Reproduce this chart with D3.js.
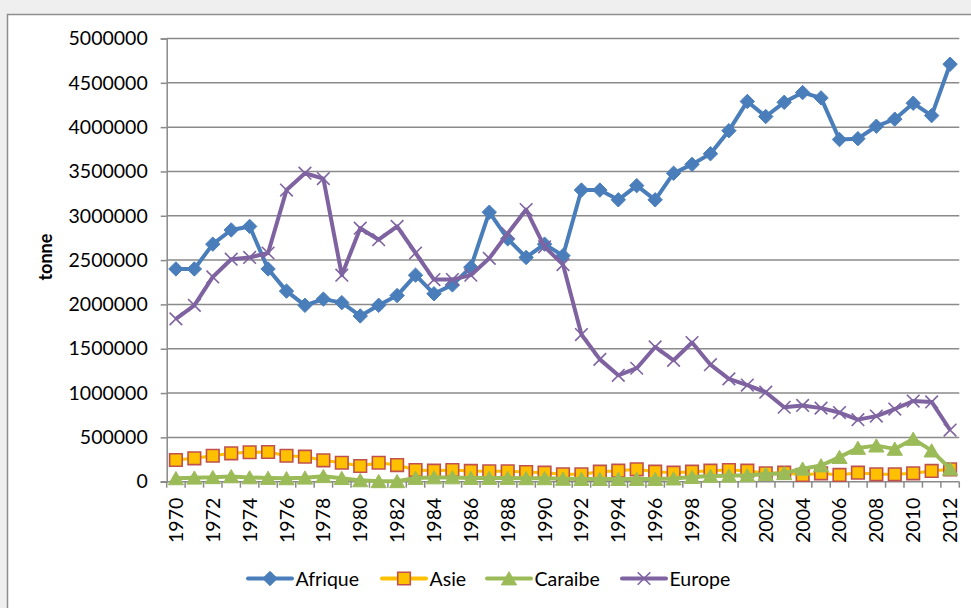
<!DOCTYPE html>
<html>
<head>
<meta charset="utf-8">
<script src="https://cdn.jsdelivr.net/npm/d3@7"></script>
<style>
  body { margin: 0; background: #efefef; }
  svg { display: block; font-family: Lato, "Open Sans", sans-serif; }
</style>
</head>
<body>
<div id="chart"></div>
<script>

// years on the category axis
var years = d3.range(1970, 2013);

// tonnes per year
var afrique = [2400000, 2400000, 2680000, 2840000, 2880000, 2400000, 2150000, 1990000, 2060000, 2020000,
  1870000, 1990000, 2100000, 2330000, 2120000, 2220000, 2420000, 3040000, 2740000, 2530000,
  2680000, 2550000, 3290000, 3290000, 3180000, 3340000, 3180000, 3480000, 3580000, 3700000,
  3960000, 4290000, 4120000, 4280000, 4390000, 4330000, 3860000, 3870000, 4010000, 4090000,
  4270000, 4130000, 4710000];

var asie = [245000, 264000, 293000, 320000, 332000, 335000, 293000, 282000, 241000, 214000,
  177000, 214000, 188000, 132000, 124000, 132000, 121000, 117000, 117000, 109000,
  102000, 83000, 83000, 113000, 124000, 140000, 113000, 102000, 113000, 124000,
  132000, 124000, 95000, 102000, 76000, 95000, 76000, 102000, 83000, 83000,
  95000, 121000, 140000];

var caraibe = [38000, 45000, 50000, 60000, 48000, 42000, 38000, 45000, 62000, 40000,
  15000, 5000, 5000, 42000, 48000, 48000, 42000, 42000, 42000, 38000,
  38000, 32000, 30000, 30000, 30000, 30000, 30000, 35000, 52000, 65000,
  68000, 72000, 85000, 95000, 146000, 183000, 277000, 381000, 407000, 370000,
  483000, 351000, 146000];

var europe = [1837000, 1990000, 2310000, 2510000, 2530000, 2580000, 3290000, 3480000, 3420000, 2330000,
  2860000, 2730000, 2880000, 2580000, 2280000, 2280000, 2330000, 2520000, 2800000, 3070000,
  2650000, 2450000, 1660000, 1380000, 1200000, 1280000, 1520000, 1370000, 1570000, 1320000,
  1160000, 1090000, 1010000, 840000, 860000, 830000, 780000, 700000, 740000, 820000,
  910000, 900000, 583000];

var yTicks = [0, 500000, 1000000, 1500000, 2000000, 2500000, 3000000, 3500000, 4000000, 4500000, 5000000];

var series = [
  {name: "Afrique", values: afrique, color: "#4A7EBB", marker: "diamond"},
  {name: "Asie", values: asie, color: "#FFC000", marker: "square"},
  {name: "Caraibe", values: caraibe, color: "#9BBB59", marker: "triangle"},
  {name: "Europe", values: europe, color: "#7F63A1", marker: "cross"}
];

var W = 971, H = 608;
var plot = {left: 166.7, right: 959.3, top: 38.5, bottom: 481.7};
var gridColor = "#8a8a8a";

var svg = d3.select("#chart").append("svg")
  .attr("width", W)
  .attr("height", H);

// outer frame of the chart area
svg.append("rect")
  .attr("x", 7.5).attr("y", 14.5)
  .attr("width", W + 10).attr("height", H + 10)
  .attr("fill", "#fff")
  .attr("stroke", "#8e8e8e")
  .attr("stroke-width", 1.5);

var x = d3.scaleBand()
  .domain(years)
  .range([plot.left, plot.right])
  .padding(0);

var y = d3.scaleLinear()
  .domain([0, 5000000])
  .range([plot.bottom, plot.top]);

function cx(i) { return x(years[i]) + x.bandwidth() / 2; }

// horizontal gridlines
svg.append("g")
  .selectAll("line")
  .data(yTicks.filter(function(t) { return t > 0; }))
  .enter().append("line")
  .attr("x1", plot.left).attr("x2", plot.right)
  .attr("y1", function(d) { return y(d); })
  .attr("y2", function(d) { return y(d); })
  .attr("stroke", gridColor)
  .attr("stroke-width", 1.5);

// y axis
var yAxis = svg.append("g")
  .attr("transform", "translate(" + plot.left + ",0)")
  .call(d3.axisLeft(y).tickValues(yTicks).tickSize(6).tickPadding(13).tickFormat(d3.format("d")));
yAxis.select(".domain").attr("stroke", gridColor).attr("stroke-width", 1.5);
yAxis.selectAll(".tick line").attr("stroke", gridColor).attr("stroke-width", 1.5);
yAxis.selectAll("text")
  .attr("font-size", 19.5)
  .attr("fill", "#000")
  .style("font-family", "Lato, sans-serif");

// x axis: baseline, ticks between categories, every second year labelled
svg.append("line")
  .attr("x1", plot.left - 6).attr("x2", plot.right)
  .attr("y1", plot.bottom).attr("y2", plot.bottom)
  .attr("stroke", gridColor)
  .attr("stroke-width", 1.5);

svg.append("g")
  .selectAll("line")
  .data(years.concat([2013]))
  .enter().append("line")
  .attr("x1", function(d, i) { return plot.left + i * x.bandwidth(); })
  .attr("x2", function(d, i) { return plot.left + i * x.bandwidth(); })
  .attr("y1", plot.bottom)
  .attr("y2", plot.bottom + 6)
  .attr("stroke", gridColor)
  .attr("stroke-width", 1.5);

svg.append("g")
  .selectAll("text")
  .data(years.filter(function(d) { return d % 2 === 0; }))
  .enter().append("text")
  .attr("transform", function(d) {
    return "translate(" + (x(d) + x.bandwidth() / 2 + 7) + "," + (plot.bottom + 16) + ") rotate(-90)";
  })
  .attr("text-anchor", "end")
  .attr("font-size", 19.5)
  .text(function(d) { return d; });

// axis title
svg.append("text")
  .attr("transform", "translate(52," + ((plot.top + plot.bottom) / 2 - 3) + ") rotate(-90)")
  .attr("text-anchor", "middle")
  .attr("font-size", 18)
  .attr("font-weight", "bold")
  .text("tonne");

// marker shapes
function markerPath(type) {
  if (type == "diamond") return "M0,-7.2L7.2,0L0,7.2L-7.2,0Z";
  if (type == "square") return "M-6.3,-6.3H6.3V6.3H-6.3Z";
  if (type == "triangle") return "M0,-6.8L7.6,6.4H-7.6Z";
  return "M-6.3,-6.3L6.3,6.3M-6.3,6.3L6.3,-6.3";
}

function drawMarker(sel, s) {
  sel.attr("d", markerPath(s.marker));
  if (s.marker == "square") {
    sel.attr("fill", "#FFC000").attr("stroke", "#C0504D").attr("stroke-width", 1.6);
  } else if (s.marker == "cross") {
    sel.attr("fill", "none").attr("stroke", s.color).attr("stroke-width", 1.6);
  } else {
    sel.attr("fill", s.color).attr("stroke", s.color).attr("stroke-width", 1);
  }
}

var line = d3.line()
  .x(function(d, i) { return cx(i); })
  .y(function(d) { return y(d); });

series.forEach(function(s) {
  var g = svg.append("g");

  g.append("path")
    .datum(s.values)
    .attr("d", line)
    .attr("fill", "none")
    .attr("stroke", s.color)
    .attr("stroke-width", s.marker == "square" ? 3 : 4)
    .attr("stroke-linejoin", "round");

  g.selectAll("path.mk")
    .data(s.values)
    .enter().append("path")
    .attr("class", "mk")
    .attr("transform", function(d, i) { return "translate(" + cx(i) + "," + y(d) + ")"; })
    .call(drawMarker, s);
});

// legend
var legendX = [248, 382, 487, 622];
var legend = svg.append("g");

series.forEach(function(s, i) {
  var lg = legend.append("g")
    .attr("transform", "translate(" + legendX[i] + ",578.5)");

  lg.append("line")
    .attr("x1", 0).attr("x2", 44)
    .attr("stroke", s.color)
    .attr("stroke-width", 4)
    .attr("stroke-linecap", "round");

  lg.append("path")
    .attr("transform", "translate(22,0)")
    .call(drawMarker, s);

  lg.append("text")
    .attr("x", 47.5)
    .attr("y", 7)
    .attr("font-size", 19.5)
    .text(s.name);
});

</script>
</body>
</html>
